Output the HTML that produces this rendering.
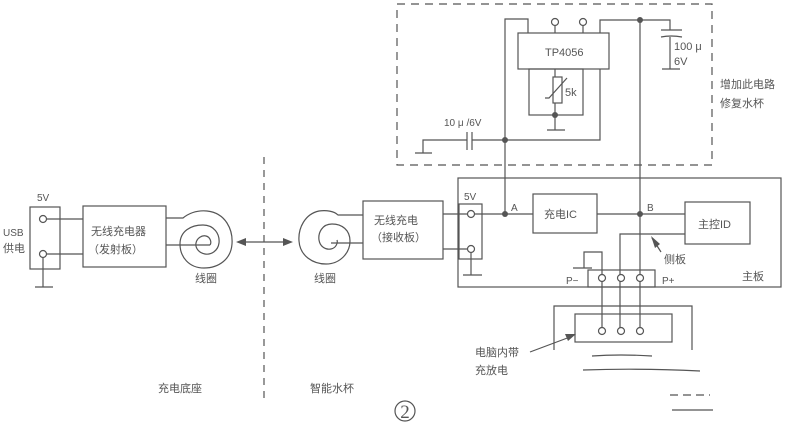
<!DOCTYPE html>
<html><head><meta charset="utf-8"><style>
html,body{margin:0;padding:0;background:#fff}
svg{display:block}
text{font-family:"Liberation Sans","Noto Sans CJK SC",sans-serif;fill:#555;font-size:11px}
</style></head><body>
<svg width="800" height="424" viewBox="0 0 800 424" xmlns="http://www.w3.org/2000/svg">
<g stroke="#555" stroke-width="1.2" fill="none">
<rect x="397" y="4" width="315" height="161" stroke-dasharray="8,6"/>
<rect x="518" y="33" width="91" height="36"/>
<circle cx="555" cy="22" r="3.5"/><line x1="555" y1="26" x2="555" y2="33"/>
<circle cx="583" cy="22" r="3.5"/><line x1="583" y1="26" x2="583" y2="33"/>
<polyline points="505,214 505,19 528,19 528,33"/>
<polyline points="600,33 600,20 670,20 670,30"/>
<line x1="661" y1="30" x2="682" y2="30"/>
<path d="M661,37 Q671,35 682,37"/>
<polyline points="670,37 670,69"/>
<line x1="662" y1="69" x2="680" y2="69"/>
<polyline points="600,69 600,140 505,140"/>
<rect x="529" y="69" width="54" height="46"/>
<rect x="553" y="77" width="9" height="26"/>
<polyline points="545,98 549,98 567,78"/>
<line x1="555" y1="69" x2="555" y2="77"/><line x1="555" y1="103" x2="555" y2="130"/>
<line x1="547" y1="130" x2="565" y2="130"/>
<line x1="505" y1="140" x2="472" y2="140"/>
<line x1="472" y1="132" x2="472" y2="150"/><line x1="467" y1="132" x2="467" y2="150"/>
<polyline points="467,140 423,140 423,153"/>
<line x1="415" y1="153" x2="432" y2="153"/>
<line x1="640" y1="20" x2="640" y2="332"/>
<rect x="458" y="178" width="323" height="109"/>
<rect x="459" y="204" width="23" height="55"/>
<circle cx="471" cy="214" r="3.5"/><circle cx="471" cy="249" r="3.5"/>
<line x1="475" y1="214" x2="533" y2="214"/>
<line x1="471" y1="253" x2="471" y2="275"/><line x1="463" y1="275" x2="482" y2="275"/>
<rect x="533" y="194" width="64" height="39"/>
<line x1="597" y1="214" x2="685" y2="214"/>
<rect x="685" y="202" width="65" height="42"/>
<polyline points="685,234 620,234 620,332"/>
<line x1="652" y1="238" x2="661" y2="252"/>
<rect x="588" y="270" width="67" height="17"/>
<polyline points="602,332 602,252 584,252 584,268"/>
<line x1="573" y1="268" x2="592" y2="268"/>
<polyline points="554,350 554,306 692,306 692,350"/>
<rect x="575" y="314" width="97" height="28"/>
<line x1="530" y1="352" x2="570" y2="337"/>
<path d="M592,356 Q620,354 652,356"/><path d="M583,370 Q640,368 700,371"/>
<line x1="670" y1="395" x2="710" y2="395" stroke-dasharray="8,5"/><line x1="672" y1="410" x2="713" y2="410"/>
<rect x="363" y="201" width="80" height="58"/>
<line x1="443" y1="214" x2="467" y2="214"/><line x1="443" y1="249" x2="467" y2="249"/>
<rect x="30" y="207" width="30" height="62"/>
<circle cx="43" cy="219" r="3.5"/><circle cx="43" cy="254" r="3.5"/>
<line x1="47" y1="219" x2="83" y2="219"/><line x1="47" y1="254" x2="83" y2="254"/>
<line x1="43" y1="258" x2="43" y2="287"/><line x1="35" y1="287" x2="53" y2="287"/>
<rect x="83" y="206" width="83" height="61"/>
<path d="M166,218 L183,218 C188,214 196,210 207,211 C226,213 233,230 232,244 C231,259 219,268 204,268 C189,268 180,257 180,244 C180,231 191,225 203,225 C214,225 220,234 219,243 C218,251 211,255 205,254 C199,253 195,248 196,243 C197,238 202,235 206,236 C210,237 212,242 210,245"/>
<line x1="166" y1="245" x2="210" y2="245"/>
<path d="M363,215 L338,215 C334,211 326,210 319,211 C305,214 298,228 299,241 C300,256 313,264 326,264 C340,264 350,253 350,241 C350,230 342,224 332,224 C322,224 318,233 319,240 C320,247 326,250 331,249 C336,248 338,243 337,240"/>
<line x1="331" y1="243" x2="363" y2="243"/>
<line x1="264" y1="157" x2="264" y2="398" stroke-dasharray="7,6"/>
<line x1="244" y1="242" x2="285" y2="242"/>
<circle cx="405" cy="411" r="10"/>
</g>
<g fill="#555">
<circle cx="505" cy="140" r="3"/><circle cx="640" cy="20" r="3"/><circle cx="555" cy="115" r="3"/>
<circle cx="505" cy="214" r="3"/><circle cx="640" cy="214" r="3"/>
<polygon points="236,242 246,238 246,246"/><polygon points="293,242 283,238 283,246"/>
<polygon points="651,236 655,248 660,244"/>
<polygon points="576,334 565,334 568,341"/>
</g>
<g fill="#fff" stroke="#555" stroke-width="1.2">
<circle cx="602" cy="278" r="3.5"/><circle cx="621" cy="278" r="3.5"/><circle cx="640" cy="278" r="3.5"/>
<circle cx="602" cy="331" r="3.5"/><circle cx="621" cy="331" r="3.5"/><circle cx="640" cy="331" r="3.5"/>
</g>
<rect x="585" y="345" width="80" height="8" fill="#fff"/>
<text x="545" y="56">TP4056</text>
<text x="444" y="126" style="font-size:10px">10 μ /6V</text>
<text x="674" y="50">100 μ</text><text x="674" y="65">6V</text>
<text x="565" y="96">5k</text>
<text x="720" y="88">增加此电路</text><text x="720" y="107">修复水杯</text>
<text x="464" y="200" style="font-size:10px">5V</text>
<text x="511" y="211" style="font-size:10px">A</text><text x="647" y="211" style="font-size:10px">B</text>
<text x="544" y="218">充电IC</text>
<text x="698" y="228">主控ID</text>
<text x="664" y="263">侧板</text>
<text x="566" y="284" style="font-size:10px">P−</text><text x="662" y="284" style="font-size:10px">P+</text>
<text x="742" y="280">主板</text>
<text x="475" y="356">电脑内带</text><text x="475" y="374">充放电</text>
<text x="374" y="224">无线充电</text><text x="371" y="241">（接收板）</text>
<text x="37" y="201" style="font-size:10px">5V</text>
<text x="3" y="236" style="font-size:10px">USB</text><text x="3" y="252">供电</text>
<text x="91" y="235">无线充电器</text><text x="88" y="253">（发射板）</text>
<text x="195" y="282">线圈</text><text x="314" y="282">线圈</text>
<text x="158" y="392">充电底座</text><text x="310" y="392">智能水杯</text>
<text x="405" y="418" text-anchor="middle" style="font-family:'Liberation Serif',serif;font-size:19px">2</text>
</svg>
</body></html>
